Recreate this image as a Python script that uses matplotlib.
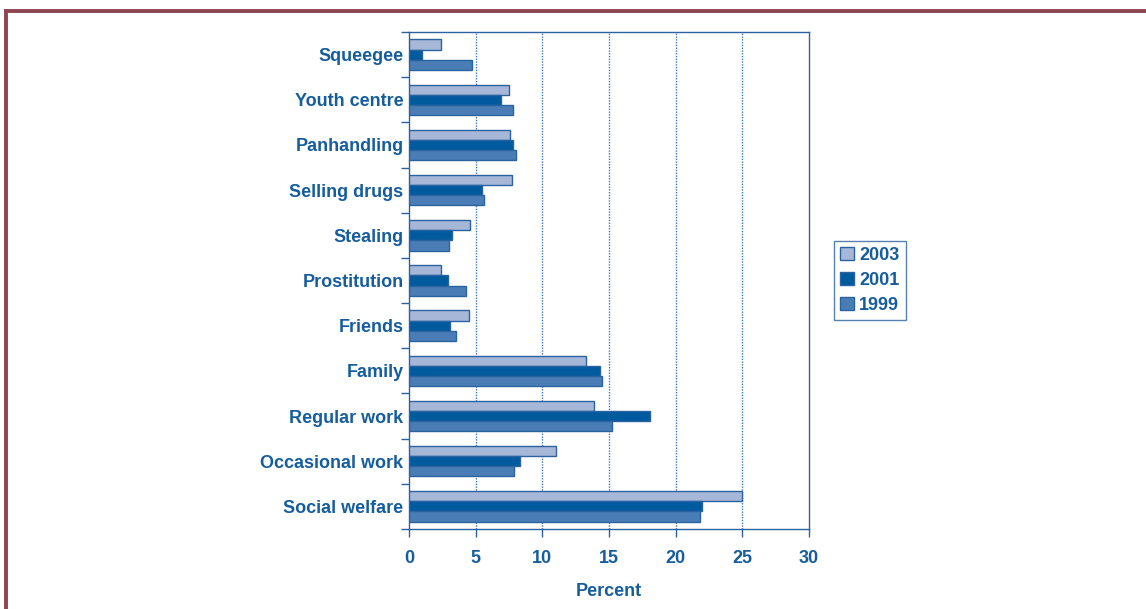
import matplotlib.pyplot as plt
import numpy as np
from matplotlib.lines import Line2D
from matplotlib.ticker import FixedLocator

plt.rcParams["font.family"] = ["Liberation Sans", "DejaVu Sans"]

categories = ["Squeegee", "Youth centre", "Panhandling", "Selling drugs", "Stealing",
              "Prostitution", "Friends", "Family", "Regular work", "Occasional work",
              "Social welfare"]
years = ["2003", "2001", "1999"]
vals_2003 = [2.4, 7.5, 7.6, 7.7, 4.6, 2.4, 4.5, 13.3, 13.9, 11.0, 25.0]
vals_2001 = [1.0, 6.9, 7.8, 5.45, 3.2, 2.9, 3.1, 14.3, 18.1, 8.3, 22.0]
vals_1999 = [4.7, 7.8, 8.0, 5.6, 3.0, 4.3, 3.5, 14.5, 15.2, 7.9, 21.8]
x_ticks = [0, 5, 10, 15, 20, 25, 30]

TEXT = "#165d9e"
EDGE = "#2a63a0"
colors = ["#a7b7d8", "#005a9e", "#4a7cb5"]

fig = plt.figure(figsize=(11.46, 6.09), dpi=100)
ax = fig.add_axes([409 / 1146, 1 - 529 / 609, 400 / 1146, 497 / 609])

y = np.arange(len(categories))
h = 0.225
for i, (vals, col) in enumerate(zip([vals_2003, vals_2001, vals_1999], colors)):
    ax.barh(y + (i - 1) * h, vals, height=h, color=col, edgecolor=EDGE,
            linewidth=1.0, label=years[i], zorder=3)

ax.set_xlim(0, 30)
ax.set_ylim(len(categories) - 0.5, -0.5)
ax.set_xticks(x_ticks)
ax.set_xticklabels([str(t) for t in x_ticks], fontsize=13, fontweight="bold", color=TEXT)
ax.set_yticks(y)
ax.set_yticklabels(categories, fontsize=13, fontweight="bold", color=TEXT)
ax.tick_params(axis="y", which="major", length=0, pad=4)
ax.yaxis.set_minor_locator(FixedLocator(np.arange(-0.5, len(categories), 1.0)))
ax.tick_params(axis="y", which="minor", length=6, color=EDGE, width=1)
ax.tick_params(axis="x", length=6, color=EDGE, width=1, pad=9)

for xv in x_ticks[1:-1]:
    ax.axvline(xv, color="#3d78b8", linestyle=(0, (1, 1)), linewidth=1.0, zorder=1)

for s in ax.spines.values():
    s.set_color(EDGE)
    s.set_linewidth(1.0)

ax.set_xlabel("Percent", fontsize=13, fontweight="bold", color=TEXT, labelpad=12)

leg = ax.legend(loc="center left", bbox_to_anchor=(1.04, 0.50), frameon=True,
                fancybox=False, fontsize=13, handlelength=0.75, handleheight=0.75,
                handletextpad=0.3, borderpad=0.35, labelspacing=0.45)
leg.get_frame().set_edgecolor(EDGE)
leg.get_frame().set_linewidth(1.0)
for t in leg.get_texts():
    t.set_color(TEXT)
    t.set_fontweight("bold")

# outer maroon frame (top and left edges)
border = "#8e4553"
fig.add_artist(Line2D([5.5 / 1146, 1.0], [1 - 10.5 / 609, 1 - 10.5 / 609],
                      transform=fig.transFigure, color=border, linewidth=2.8))
fig.add_artist(Line2D([5.5 / 1146, 5.5 / 1146], [0.0, 1 - 10.5 / 609],
                      transform=fig.transFigure, color=border, linewidth=2.8))

fig.savefig("out.png", dpi=100)
